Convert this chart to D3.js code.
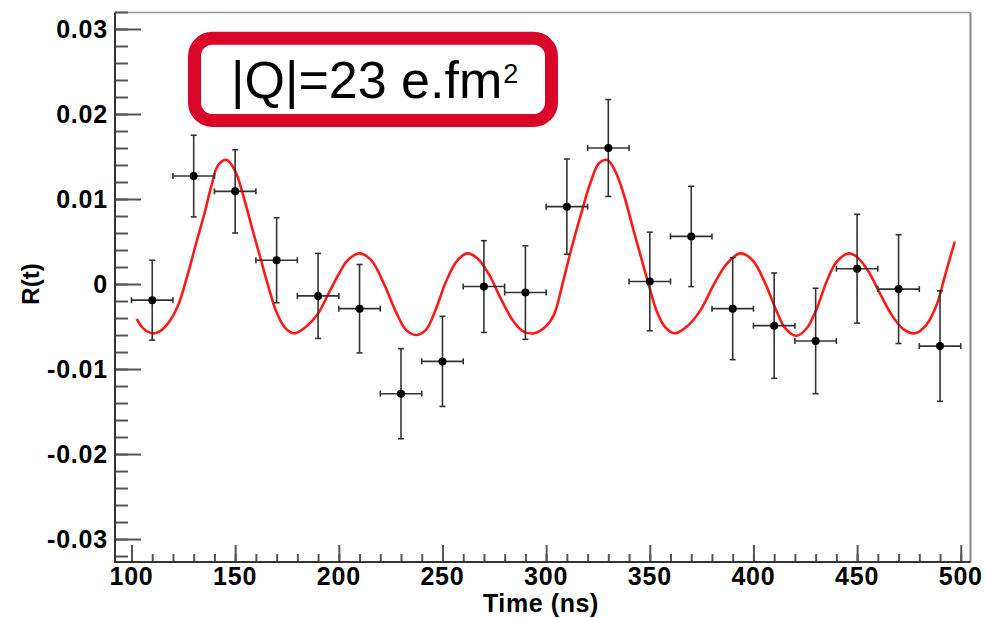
<!DOCTYPE html>
<html>
<head>
<meta charset="utf-8">
<script src="https://cdn.jsdelivr.net/npm/d3@7"></script>
<style>
  html, body { margin: 0; padding: 0; background: #fff; }
  svg { display: block; }
</style>
</head>
<body>
<svg id="chart" width="985" height="618"></svg>
<script>
// ---- Data ----
const timeBins = [110, 130, 150, 170, 190, 210, 230, 250, 270, 290, 310, 330, 350, 370, 390, 410, 430, 450, 470, 490];
const rValues  = [-0.0019, 0.0127, 0.0109, 0.0028, -0.0014, -0.0029, -0.0129, -0.0091, -0.0003, -0.0010, 0.0091, 0.0160, 0.0003, 0.0056, -0.0029, -0.0049, -0.0067, 0.0018, -0.0006, -0.0073];
const rErrors  = [0.0047, 0.0048, 0.0049, 0.0050, 0.0050, 0.0052, 0.0053, 0.0053, 0.0054, 0.0055, 0.0056, 0.0057, 0.0058, 0.0059, 0.0060, 0.0062, 0.0062, 0.0064, 0.0064, 0.0065];
const timeHalfWidth = 10;

const fitTimes = [102.5, 106, 110.5, 114, 117.7, 122.5, 126.6, 131.4, 135.4, 138.6, 141.8, 145.8, 149.8, 153.8, 157.8, 161.8, 165.8, 169.9, 173.9, 178.3, 184.3, 189.9, 195.5, 200.3, 204.3, 210, 215.6, 222, 227.6, 232.4, 237.2, 242, 246.9, 251.7, 257.3, 262.1, 266.9, 272.5, 278.1, 283.7, 288.5, 294.2, 299.8, 303.8, 307.8, 311.8, 316.7, 321.5, 325.5, 329.5, 333.5, 337.5, 341.5, 345.5, 349.5, 353.5, 357.5, 362, 367.9, 374.4, 380.8, 387.2, 393.6, 399.6, 406, 411, 415.3, 420.6, 425.7, 430.5, 435.3, 440.1, 445.8, 449.8, 455.4, 461, 466.6, 472.3, 477.9, 483.4, 488.3, 492.3, 497.1];
const fitValues = [-0.0041, -0.0053, -0.0058, -0.0055, -0.0046, -0.0025, 0.0007, 0.0050, 0.0085, 0.0116, 0.0140, 0.0146, 0.0134, 0.0105, 0.0069, 0.0034, -0.0001, -0.0033, -0.0051, -0.0058, -0.0050, -0.0035, -0.0009, 0.0013, 0.0028, 0.0036, 0.0028, -0.0001, -0.0033, -0.0054, -0.0060, -0.0054, -0.0029, 0.0003, 0.0028, 0.0036, 0.0030, 0.0011, -0.0017, -0.0042, -0.0055, -0.0058, -0.0050, -0.0036, -0.0001, 0.0038, 0.0081, 0.0120, 0.0142, 0.0146, 0.0132, 0.0105, 0.0069, 0.0034, -0.0001, -0.0033, -0.0051, -0.0058, -0.0050, -0.0031, -0.0001, 0.0024, 0.0036, 0.0028, -0.0001, -0.0031, -0.0052, -0.0061, -0.0052, -0.0029, 0.0003, 0.0026, 0.0036, 0.0032, 0.0015, -0.0011, -0.0036, -0.0053, -0.0058, -0.0048, -0.0025, 0.0009, 0.0050];

const xMajorTicks = [100, 150, 200, 250, 300, 350, 400, 450, 500];
const yMajorTicks = [-0.03, -0.02, -0.01, 0, 0.01, 0.02, 0.03];
const yTickLabels = ["-0.03", "-0.02", "-0.01", "0", "0.01", "0.02", "0.03"];
const xTitle = "Time (ns)";
const yTitle = "R(t)";
const boxText = "|Q|=23 e.fm";
const boxSup = "2";

// ---- Layout ----
const frame = { left: 115, right: 970.5, top: 12.5, bottom: 562 };
const svg = d3.select("#chart");

const x = d3.scaleLinear().domain([92.04, 504.7]).range([frame.left, frame.right]);
const y = d3.scaleLinear().domain([-0.0327, 0.03194]).range([frame.bottom, frame.top]);

const fontFam = "'Liberation Sans', Arial, Helvetica, sans-serif";

// frame (top/right grey)
svg.append("line").attr("x1", frame.left).attr("x2", frame.right).attr("y1", frame.top).attr("y2", frame.top)
  .attr("stroke", "#999").attr("stroke-width", 1.5);
svg.append("line").attr("x1", frame.right).attr("x2", frame.right).attr("y1", frame.top).attr("y2", frame.bottom)
  .attr("stroke", "#888").attr("stroke-width", 2);

// ---- Axes (ROOT style: ticks inside) ----
const yMinor = d3.range(-16, 17).map(i => i * 0.002);
const xMinor = d3.range(10, 51).map(i => i * 10);

const yAxisMinor = d3.axisRight(y).tickValues(yMinor).tickSize(13).tickFormat("");
const yAxisMajor = d3.axisRight(y).tickValues(yMajorTicks).tickSize(26).tickFormat("");
const gy1 = svg.append("g").attr("transform", `translate(${frame.left},0)`).call(yAxisMinor);
const gy2 = svg.append("g").attr("transform", `translate(${frame.left},0)`).call(yAxisMajor);

const xAxisMinor = d3.axisTop(x).tickValues(xMinor).tickSize(8).tickFormat("");
const xAxisMajor = d3.axisTop(x).tickValues(xMajorTicks).tickSize(17).tickFormat("");
const gx1 = svg.append("g").attr("transform", `translate(0,${frame.bottom})`).call(xAxisMinor);
const gx2 = svg.append("g").attr("transform", `translate(0,${frame.bottom})`).call(xAxisMajor);

[gy1, gy2, gx1, gx2].forEach(g => {
  g.select(".domain").remove();
  g.selectAll(".tick line").attr("stroke", "#555").attr("stroke-width", 2);
});

// axis lines
svg.append("line").attr("x1", frame.left).attr("x2", frame.left).attr("y1", frame.top).attr("y2", frame.bottom + 1)
  .attr("stroke", "#333").attr("stroke-width", 2);
svg.append("line").attr("x1", frame.left - 1).attr("x2", frame.right).attr("y1", frame.bottom).attr("y2", frame.bottom)
  .attr("stroke", "#333").attr("stroke-width", 2);

// tick labels
svg.append("g").selectAll("text").data(yMajorTicks).join("text")
  .attr("x", 108).attr("y", d => y(d)).attr("dy", "0.36em")
  .attr("text-anchor", "end")
  .attr("font-family", fontFam).attr("font-weight", "bold").attr("font-size", 25)
  .attr("letter-spacing", "0.8px")
  .text((d, i) => yTickLabels[i]);

svg.append("g").selectAll("text").data(xMajorTicks).join("text")
  .attr("x", d => x(d)).attr("y", 585)
  .attr("text-anchor", "middle")
  .attr("font-family", fontFam).attr("font-weight", "bold").attr("font-size", 25)
  .attr("letter-spacing", "0.8px")
  .text(d => d);

// axis titles
svg.append("text").attr("x", 541).attr("y", 612).attr("text-anchor", "middle")
  .attr("font-family", fontFam).attr("font-weight", "bold").attr("font-size", 25)
  .attr("letter-spacing", "0.6px")
  .text(xTitle);
svg.append("text").attr("transform", "translate(39,284) rotate(-90)").attr("text-anchor", "middle")
  .attr("font-family", fontFam).attr("font-weight", "bold").attr("font-size", 24)
  .text(yTitle);

// ---- Fit curve ----
const fitData = fitTimes.map((t, i) => [t, fitValues[i]]);
const line = d3.line().x(d => x(d[0])).y(d => y(d[1])).curve(d3.curveCatmullRom.alpha(0.5));
svg.append("path").datum(fitData).attr("d", line)
  .attr("fill", "none").attr("stroke", "#ff1a1a").attr("stroke-width", 2.6).attr("stroke-linejoin", "round");

// ---- Data points with error bars ----
const pts = timeBins.map((t, i) => ({ t, v: rValues[i], e: rErrors[i] }));
const gp = svg.append("g").attr("stroke", "#333").attr("stroke-width", 1.6);
const cap = 3;
pts.forEach(p => {
  const cx = x(p.t), cy = y(p.v);
  const x0 = x(p.t - timeHalfWidth), x1 = x(p.t + timeHalfWidth);
  const y0 = y(p.v - p.e), y1 = y(p.v + p.e);
  gp.append("line").attr("x1", x0).attr("x2", x1).attr("y1", cy).attr("y2", cy);
  gp.append("line").attr("x1", cx).attr("x2", cx).attr("y1", y0).attr("y2", y1);
  gp.append("line").attr("x1", x0).attr("x2", x0).attr("y1", cy - cap).attr("y2", cy + cap);
  gp.append("line").attr("x1", x1).attr("x2", x1).attr("y1", cy - cap).attr("y2", cy + cap);
  gp.append("line").attr("x1", cx - cap).attr("x2", cx + cap).attr("y1", y0).attr("y2", y0);
  gp.append("line").attr("x1", cx - cap).attr("x2", cx + cap).attr("y1", y1).attr("y2", y1);
});
svg.append("g").selectAll("circle").data(pts).join("circle")
  .attr("cx", d => x(d.t)).attr("cy", d => y(d.v)).attr("r", 4).attr("fill", "#000");

// ---- Label box ----
svg.append("rect").attr("x", 194.5).attr("y", 38.2).attr("width", 357).attr("height", 82.3)
  .attr("rx", 18).attr("ry", 18)
  .attr("fill", "#fff").attr("stroke", "#DA0629").attr("stroke-width", 13);
const lbl = svg.append("text").attr("x", 231).attr("y", 98)
  .attr("font-family", fontFam).attr("font-size", 52).attr("fill", "#000");
lbl.append("tspan").text(boxText);
lbl.append("tspan").attr("font-size", 27).attr("dy", -15).attr("dx", 1).text(boxSup);
</script>
</body>
</html>
